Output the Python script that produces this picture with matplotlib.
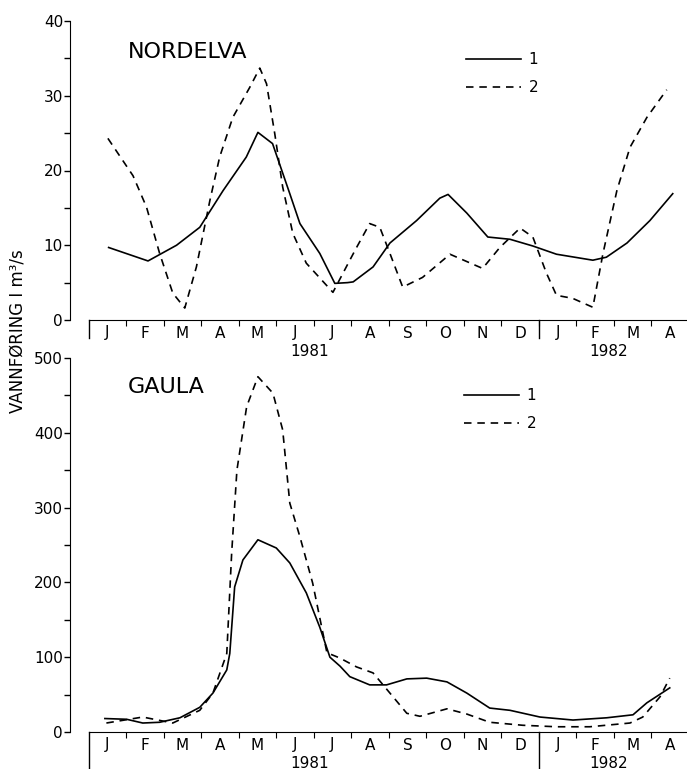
import matplotlib.pyplot as plt
from matplotlib.ticker import MultipleLocator

plt.rcParams['font.family'] = ['Liberation Sans Narrow', 'DejaVu Sans']

# months since start of Jan 1981 (0) to end of Apr 1982 (16)
months = ['J', 'F', 'M', 'A', 'M', 'J', 'J', 'A', 'S', 'O', 'N', 'D',
          'J', 'F', 'M', 'A']
years = ['1981', '1982']
year_pos = [5.9, 13.85]

# NORDELVA
nord_x1 = [0.53, 1.58, 2.34, 2.96, 3.58, 4.2, 4.51, 4.9, 5.36, 5.63, 6.16,
           6.56, 6.9, 7.05, 7.58, 8.03, 8.74, 9.36, 9.58, 10.08, 10.64,
           11.23, 11.84, 12.47, 13.44, 13.8, 14.35, 14.96, 15.57]
nord_y1 = [9.7, 7.9, 10.0, 12.4, 17.3, 21.8, 25.1, 23.6, 16.9, 12.9, 8.9,
           4.9, 5.0, 5.1, 7.1, 10.3, 13.3, 16.3, 16.8, 14.3, 11.1,
           10.8, 9.9, 8.8, 8.0, 8.4, 10.3, 13.3, 16.9]
nord_x2 = [0.51, 1.18, 1.54, 1.89, 2.24, 2.56, 2.87, 3.23, 3.49, 3.84, 4.29,
           4.56, 4.74, 4.96, 5.17, 5.44, 5.8, 6.51, 6.96, 7.14, 7.49, 7.76,
           8.03, 8.37, 8.9, 9.63, 10.5, 10.96, 11.5, 11.84, 12.2, 12.47,
           12.9, 13.44, 13.71, 14.08, 14.43, 14.88, 15.41]
nord_y2 = [24.3, 19.3, 15.1, 8.9, 3.6, 1.6, 7.1, 16.0, 21.8, 27.1, 31.1,
           33.7, 31.6, 24.9, 17.8, 11.6, 7.6, 3.7, 8.0, 9.7, 12.9, 12.4,
           8.9, 4.4, 5.7, 8.8, 6.9, 9.7, 12.3, 11.1, 6.3, 3.3,
           2.9, 1.7, 8.9, 17.3, 23.1, 27.1, 30.8]

# GAULA
gaula_x1 = [0.43, 1.01, 1.44, 1.89, 2.43, 2.96, 3.31, 3.68, 3.76, 3.89, 4.11,
            4.51, 5.0, 5.36, 5.8, 6.16, 6.43, 6.7, 6.96, 7.49, 7.94, 8.48,
            9.01, 9.55, 10.08, 10.69, 11.23, 12.03, 12.91, 13.81, 14.51,
            14.88, 15.49]
gaula_y1 = [18, 17, 12, 13, 19, 33, 52, 83, 105, 194, 230,
            257, 246, 226, 186, 140, 100, 88, 74, 63, 63, 71,
            72, 67, 52, 32, 29, 20, 16, 19, 23,
            39, 59]
gaula_x2 = [0.47, 1.44, 2.24, 2.96, 3.31, 3.68, 3.81, 3.95, 4.21, 4.51, 4.91,
            5.17, 5.36, 5.63, 5.97, 6.35, 6.69, 7.14, 7.58, 8.03, 8.48, 8.83,
            9.55, 10.08, 10.69, 11.57, 12.47, 13.36, 14.43, 14.77, 15.23,
            15.49]
gaula_y2 = [12, 20, 12, 29, 52, 105, 239, 350, 435, 475, 453,
            404, 306, 261, 199, 106, 99, 87, 79, 52, 25, 21,
            31, 24, 13, 9, 7, 7, 12, 20, 47,
            72]

W, H = 687, 769
fig = plt.figure(figsize=(W / 100, H / 100), dpi=100)


def panel(top_px, zero_px, ymax, ymajor, title, title_y, leg_xy, x1, y1, x2, y2, year_line_px):
    ax = fig.add_axes([70 / W, 1 - zero_px / H, (W - 70) / W, (zero_px - top_px) / H])
    ax.plot(x1, y1, '-', color='black', lw=1.2, label='1')
    ax.plot(x2, y2, '--', color='black', lw=1.2, dashes=(4.5, 3.5), label='2')
    ax.set_xlim(-0.5, 15.95)
    ax.set_ylim(0, ymax)
    for s in ['top', 'right']:
        ax.spines[s].set_visible(False)
    ax.spines['left'].set_bounds(0, ymax)
    ax.spines['bottom'].set_bounds(0, 16)
    ax.yaxis.set_major_locator(MultipleLocator(ymajor))
    ax.yaxis.set_minor_locator(MultipleLocator(ymajor / 2))
    ax.tick_params(axis='y', which='major', length=4, width=1, labelsize=11, pad=1)
    ax.tick_params(axis='y', which='minor', length=4, width=1)
    ax.set_xticks(range(1, 16))
    ax.set_xticklabels([])
    ax.tick_params(axis='x', which='major', length=4, width=0.8)
    h = zero_px - top_px
    ax.axvline(0, ymin=-year_line_px / h, ymax=0, color='black', lw=1, clip_on=False)
    ax.axvline(12, ymin=-year_line_px / h, ymax=0, color='black', lw=1, clip_on=False)
    for i, m in enumerate(months):
        ax.annotate(m, (i + 0.5, 0), xycoords=('data', 'axes fraction'),
                    xytext=(0, -13 * 0.72), textcoords='offset points',
                    ha='center', va='center', fontsize=11)
    for yr, xp in zip(years, year_pos):
        ax.annotate(yr, (xp, 0), xycoords=('data', 'axes fraction'),
                    xytext=(0, -31 * 0.72), textcoords='offset points',
                    ha='center', va='center', fontsize=11)
    fig.text(128 / W, 1 - title_y / H, title, ha='left', va='center', fontsize=16)
    ax.legend(loc='upper left', bbox_to_anchor=(leg_xy[0] / W, 1 - leg_xy[1] / H),
              bbox_transform=fig.transFigure, frameon=False, fontsize=11,
              handlelength=3.6, handletextpad=0.5, labelspacing=0.85,
              borderpad=0, borderaxespad=0)
    return ax


panel(21, 320, 40, 10, 'NORDELVA', 52, (466, 52), nord_x1, nord_y1, nord_x2, nord_y2, 18)
panel(358, 732, 500, 100, 'GAULA', 387, (464, 388), gaula_x1, gaula_y1, gaula_x2, gaula_y2, 60)

fig.text(18 / W, 1 - 331 / H, 'VANNFØRING I m³/s', rotation=90, ha='center',
         va='center', fontsize=12)

fig.savefig('out.png', dpi=100)
